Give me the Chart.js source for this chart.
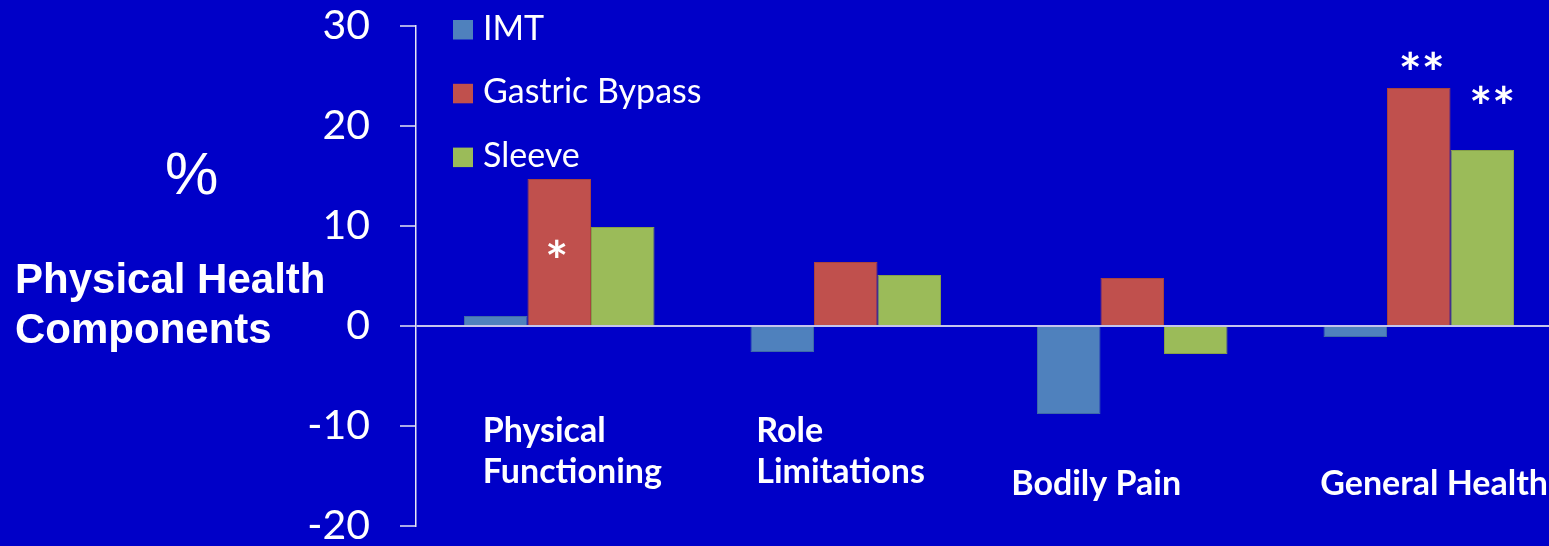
<!DOCTYPE html>
<html>
<head>
<meta charset="utf-8">
<style>
  html, body { margin: 0; padding: 0; background: #0000C8; overflow: hidden; }
  #wrap { width: 1549px; height: 546px; overflow: hidden; }
  canvas { display: block; }
</style>
<script src="https://cdn.jsdelivr.net/npm/chart.js@4.4.1/dist/chart.umd.min.js"></script>
</head>
<body>
<div id="wrap"><canvas id="c" width="1565" height="546"></canvas></div>
<script>
// Change in physical health components (%), by treatment group
const categories = [['Physical', 'Functioning'], ['Role', 'Limitations'], ['Bodily Pain'], ['General Health']];
const seriesNames = ['IMT', 'Gastric Bypass', 'Sleeve'];
const imt = [1.0, -2.6, -8.8, -1.1];
const gastricBypass = [14.7, 6.4, 4.8, 23.8];
const sleeve = [9.9, 5.1, -2.8, 17.6];
const yMin = -20, yMax = 30, yStep = 10;
// significance markers: series index, category index, text
const markers = [
  { series: 1, index: 0, text: '*' },
  { series: 1, index: 3, text: '**' },
  { series: 2, index: 3, text: '**' }
];

const BG = '#0000C8';
const WHITE = '#FFFFFF';
const SANS = 'Lato, "Open Sans", sans-serif';

const fillColors = ['#4F81BD', '#C0504D', '#9BBB59'];
const edgeColors = ['#3F6AA8', '#A8443F', '#869F4A'];

const background = {
  id: 'background',
  beforeDraw(chart) {
    const c = chart.ctx;
    c.save();
    c.fillStyle = BG;
    c.fillRect(0, 0, chart.width, chart.height);
    c.restore();
  }
};

// centre a text's ink box on (cx, cy)
function drawCentered(c, text, cx, cy) {
  c.textAlign = 'left';
  c.textBaseline = 'alphabetic';
  const m = c.measureText(text);
  const w = m.actualBoundingBoxLeft + m.actualBoundingBoxRight;
  const x = cx - w / 2 + m.actualBoundingBoxLeft;
  const y = cy - (m.actualBoundingBoxDescent - m.actualBoundingBoxAscent) / 2;
  c.fillText(text, x, y);
}

const decorations = {
  id: 'decorations',
  afterDraw(chart) {
    const c = chart.ctx;
    const area = chart.chartArea;
    const xs = chart.scales.x;
    c.save();
    c.fillStyle = WHITE;

    // axis title block on the left
    c.font = '60px "Liberation Sans", Arial, sans-serif';
    drawCentered(c, '%', 192, 173);
    c.textAlign = 'left';
    c.textBaseline = 'alphabetic';
    c.font = 'bold 42px "Liberation Sans", Arial, sans-serif';
    c.fillText('Physical Health', 15, 293);
    c.fillText('Components', 15, 343);

    // legend, stacked inside the plot area
    c.font = '34px ' + SANS;
    chart.data.datasets.forEach((ds, i) => {
      const base = area.top + 13.5 + i * 63.8;
      const sx = area.left + 37;
      c.fillStyle = ds.backgroundColor;
      c.fillRect(sx, base - 19.5, 20, 19.5);
      c.fillStyle = WHITE;
      c.textAlign = 'left';
      c.textBaseline = 'alphabetic';
      c.fillText(ds.label, sx + 30, base);
    });

    // category names under each group
    const labelShift = [-76.5, -89.5, -121, -98.5];
    c.font = 'bold 34px ' + SANS;
    c.textAlign = 'left';
    c.textBaseline = 'alphabetic';
    categories.forEach((lines, i) => {
      const x = xs.getPixelForValue(i) + labelShift[i];
      if (lines.length === 2) {
        c.fillText(lines[0], x, 441.5);
        c.fillText(lines[1], x, 483);
      } else {
        c.fillText(lines[0], x, 495);
      }
    });

    // significance asterisks
    const markShift = [[-2.5, 69], [3, -28], [10, -56]];
    c.font = 'bold 54px ' + SANS;
    markers.forEach((mk, k) => {
      const bar = chart.getDatasetMeta(mk.series).data[mk.index];
      drawCentered(c, mk.text, bar.x + markShift[k][0], bar.y + markShift[k][1]);
    });
    c.restore();
  }
};

new Chart(document.getElementById('c'), {
  type: 'bar',
  data: {
    labels: categories,
    datasets: [imt, gastricBypass, sleeve].map((values, i) => ({
      label: seriesNames[i],
      data: values,
      backgroundColor: fillColors[i],
      borderColor: edgeColors[i],
      borderWidth: 1,
      categoryPercentage: 0.665,
      barPercentage: 1.0
    }))
  },
  options: {
    responsive: false,
    animation: false,
    devicePixelRatio: 1,
    layout: { autoPadding: false, padding: { left: 0, right: 3, top: 26, bottom: 20 } },
    plugins: { legend: { display: false }, tooltip: { enabled: false } },
    scales: {
      x: { display: false },
      y: {
        min: yMin,
        max: yMax,
        afterFit(scale) {
          scale.width = 416;
          scale.paddingTop = 0;
          scale.paddingBottom = 0;
        },
        ticks: {
          stepSize: yStep,
          color: WHITE,
          padding: 30,
          font: { family: SANS, size: 41, lineHeight: 1 }
        },
        grid: {
          drawOnChartArea: true,
          tickLength: 16,
          tickColor: '#E6E6F4',
          tickWidth: 1.5,
          color: ctx => (ctx.tick && ctx.tick.value === 0 ? '#C4C4EC' : 'rgba(0,0,0,0)'),
          lineWidth: 2
        },
        border: { display: true, color: '#E6E6F4', width: 1.5 }
      }
    }
  },
  plugins: [background, decorations]
});
</script>
</body>
</html>
